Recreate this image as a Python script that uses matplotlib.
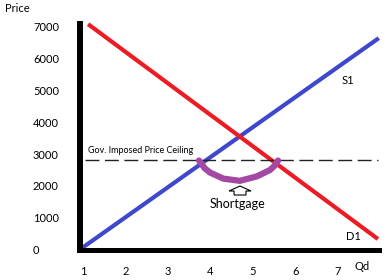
import matplotlib
matplotlib.use("Agg")
import matplotlib.pyplot as plt

plt.rcParams['font.family'] = ['Lato', 'DejaVu Sans']

# axis ticks
qty_ticks = [1, 2, 3, 4, 5, 6, 7]
price_ticks = [0, 1000, 2000, 3000, 4000, 5000, 6000, 7000]

# supply and demand lines (end points)
supply_q = [0.98, 7.96]
supply_p = [50, 6650]
demand_q = [1.12, 7.94]
demand_p = [7090, 330]

# price ceiling
ceiling = 2800

# shortage bracket
shortage_q = [3.73, 3.86, 3.99, 4.3, 4.69, 5.09, 5.40, 5.52, 5.59]
shortage_p = [2800, 2560, 2420, 2230, 2160, 2300, 2500, 2650, 2800]

fig = plt.figure(figsize=(3.89, 2.8), dpi=100)
ax = fig.add_axes([79.5 / 389, 30.5 / 280, 299.5 / 389, 225.5 / 280])

ax.plot(supply_q, supply_p, color='#3F48CC', lw=3, clip_on=False, solid_capstyle='butt')
ax.plot(demand_q, demand_p, color='#ED1C24', lw=3, clip_on=False, solid_capstyle='butt')
ax.plot([1.05, 7.94], [ceiling, ceiling], color='#222222', lw=1,
        linestyle=(0, (10, 4)))
ax.plot(shortage_q, shortage_p, color='#A349A4', lw=4.5,
        solid_capstyle='round', solid_joinstyle='round')

ax.arrow(4.695, 1714, 0, 283, width=0.28, head_width=0.52, head_length=157,
         length_includes_head=True, fc='white', ec='black', lw=0.8)

ax.text(1.118, 3100, 'Gov. Imposed Price Ceiling', fontsize=6.5, va='center', ha='left')
ax.text(4.63, 1430, 'Shortgage', fontsize=9, ha='center', va='center')
ax.text(7.09, 5330, 'S1', fontsize=8, ha='left', va='center')
ax.text(7.18, 400, 'D1', fontsize=8, ha='left', va='center')

ax.set_xlim(0.918, 7.965)
ax.set_ylim(0, 7094)
ax.set_xticks(qty_ticks)
ax.set_yticks(price_ticks)
ax.tick_params(length=0, labelsize=8)
ax.tick_params(axis='x', pad=12)
ax.tick_params(axis='y', pad=33.5)
for lab in ax.get_yticklabels():
    lab.set_horizontalalignment('left')

for s in ['top', 'right']:
    ax.spines[s].set_visible(False)
ax.spines['left'].set_linewidth(4.3)
ax.spines['bottom'].set_linewidth(3.6)

fig.text(5 / 389, 1 - 9 / 280, 'Price', fontsize=8, ha='left', va='center')
fig.text(362 / 389, 1 - 267 / 280, 'Qd', fontsize=8, ha='center', va='center')

fig.savefig('out.png', dpi=100)
